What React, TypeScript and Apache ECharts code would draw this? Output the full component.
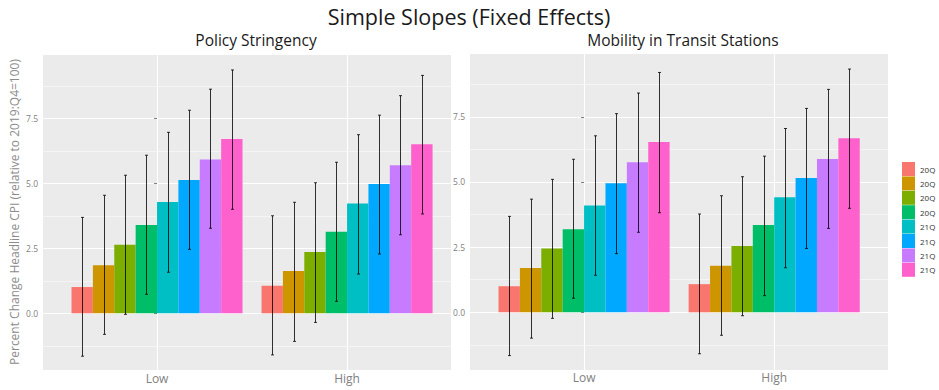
import React, { useEffect, useRef } from 'react';
import * as echarts from 'echarts';

const categories = ['Low', 'High'];
const quarters = ['20Q1', '20Q2', '20Q3', '20Q4', '21Q1', '21Q2', '21Q3', '21Q4'];
const colors = ['#F8766D', '#CD9600', '#7CAE00', '#00BE67', '#00BFC4', '#00A9FF', '#C77CFF', '#FF61CC'];
const yTicks = [0, 2.5, 5, 7.5];

// Policy Stringency
const stringencyLowEst = [1.01, 1.85, 2.64, 3.40, 4.28, 5.13, 5.92, 6.70];
const stringencyLowLo = [-1.65, -0.81, -0.04, 0.73, 1.58, 2.46, 3.27, 4.00];
const stringencyLowHi = [3.69, 4.54, 5.31, 6.08, 6.96, 7.81, 8.62, 9.36];
const stringencyHighEst = [1.06, 1.63, 2.36, 3.14, 4.22, 4.97, 5.69, 6.50];
const stringencyHighLo = [-1.60, -1.08, -0.35, 0.46, 1.51, 2.28, 3.02, 3.82];
const stringencyHighHi = [3.75, 4.27, 5.02, 5.81, 6.87, 7.62, 8.37, 9.15];

// Mobility in Transit Stations
const mobilityLowEst = [1.00, 1.70, 2.45, 3.19, 4.10, 4.95, 5.76, 6.53];
const mobilityLowLo = [-1.66, -0.99, -0.23, 0.54, 1.42, 2.25, 3.07, 3.82];
const mobilityLowHi = [3.68, 4.34, 5.10, 5.87, 6.77, 7.62, 8.41, 9.20];
const mobilityHighEst = [1.08, 1.79, 2.54, 3.35, 4.41, 5.15, 5.88, 6.68];
const mobilityHighLo = [-1.59, -0.88, -0.13, 0.64, 1.71, 2.45, 3.22, 3.99];
const mobilityHighHi = [3.77, 4.47, 5.20, 5.99, 7.05, 7.82, 8.55, 9.33];

const FONT = 'Open Sans';
const GROUP_WIDTH = 0.9;

function makeRender(qi: number) {
  return (params: any, api: any) => {
    const x = api.value(0);
    const y = api.value(1);
    const lo = api.value(2);
    const hi = api.value(3);
    const bw = GROUP_WIDTH / quarters.length;
    const x0 = x - GROUP_WIDTH / 2 + bw * qi;
    const p0 = api.coord([x0, y]);
    const p1 = api.coord([x0 + bw, 0]);
    const xc = Math.round(api.coord([x0 + bw / 2, 0])[0]) + 0.5;
    const pt = api.coord([x0 + bw / 2, hi]);
    const pb = api.coord([x0 + bw / 2, lo]);
    const cap = 1.5;
    const es = { stroke: 'rgba(0,0,0,0.8)', lineWidth: 1 };
    return {
      type: 'group',
      children: [
        {
          type: 'rect',
          shape: {
            x: p0[0],
            y: Math.min(p0[1], p1[1]),
            width: p1[0] - p0[0],
            height: Math.abs(p1[1] - p0[1]),
          },
          style: { fill: colors[qi] },
        },
        { type: 'line', shape: { x1: xc, y1: pt[1], x2: xc, y2: pb[1] }, style: es },
        { type: 'line', shape: { x1: xc - cap, y1: pt[1], x2: xc + cap, y2: pt[1] }, style: es },
        { type: 'line', shape: { x1: xc - cap, y1: pb[1], x2: xc + cap, y2: pb[1] }, style: es },
      ],
    };
  };
}

function panelSeries(est: number[][], lo: number[][], hi: number[][], idx: number) {
  return quarters.map((q, qi) => ({
    type: 'custom',
    name: q,
    xAxisIndex: idx,
    yAxisIndex: idx,
    itemStyle: { color: colors[qi] },
    encode: { x: 0, y: 1 },
    renderItem: makeRender(qi),
    data: categories.map((_, c) => [c, est[c][qi], lo[c][qi], hi[c][qi]]),
  }));
}

function xAxisOpt(idx: number, min: number, max: number) {
  return {
    type: 'value',
    gridIndex: idx,
    min,
    max,
    axisLine: { show: false },
    axisTick: { show: false, customValues: [0, 1] },
    axisLabel: {
      customValues: [0, 1],
      formatter: (v: number) => categories[Math.round(v)],
      margin: 0,
      verticalAlign: 'middle',
      color: '#7f7f7f',
      fontSize: 12,
      fontFamily: FONT,
    },
    splitLine: { show: true, lineStyle: { color: '#ffffff', width: 1.1 } },
  };
}

function yAxisOpt(idx: number) {
  return {
    type: 'value',
    gridIndex: idx,
    min: -2.5,
    max: 10,
    interval: 2.5,
    axisLine: { show: false },
    axisTick: { show: true, length: 3, customValues: yTicks, lineStyle: { color: '#7f7f7f' } },
    axisLabel: {
      customValues: yTicks,
      formatter: (v: number) => v.toFixed(1),
      fontSize: 8.5,
      color: '#7f7f7f',
      margin: 5,
      fontFamily: FONT,
    },
    splitLine: { show: true, lineStyle: { color: '#ffffff', width: 1.1 } },
    minorTick: { show: false, splitNumber: 2 },
    minorSplitLine: { show: true, lineStyle: { color: '#ffffff', width: 0.5 } },
  };
}

export default function App() {
  const ref = useRef<HTMLDivElement>(null);
  useEffect(() => {
    if (!ref.current) return;
    const chart = echarts.init(ref.current, undefined, { renderer: 'svg' });
    const stringencyEst = [stringencyLowEst, stringencyHighEst];
    const stringencyLo = [stringencyLowLo, stringencyHighLo];
    const stringencyHi = [stringencyLowHi, stringencyHighHi];
    const mobilityEst = [mobilityLowEst, mobilityHighEst];
    const mobilityLo = [mobilityLowLo, mobilityHighLo];
    const mobilityHi = [mobilityLowHi, mobilityHighHi];
    chart.setOption({
      animation: false,
      textStyle: { fontFamily: FONT },
      title: [
        {
          text: 'Simple Slopes (Fixed Effects)',
          left: 464,
          top: 0,
          textAlign: 'center',
          textStyle: { fontSize: 21.5, fontWeight: 'normal', color: '#1a1a1a', fontFamily: FONT },
        },
        {
          text: 'Policy Stringency',
          left: 251,
          top: 27,
          textAlign: 'center',
          textStyle: { fontSize: 15.5, fontWeight: 'normal', color: '#1a1a1a', fontFamily: FONT },
        },
        {
          text: 'Mobility in Transit Stations',
          left: 678,
          top: 27,
          textAlign: 'center',
          textStyle: { fontSize: 15.5, fontWeight: 'normal', color: '#1a1a1a', fontFamily: FONT },
        },
      ],
      legend: {
        orient: 'vertical',
        left: 902,
        top: 162,
        padding: 0,
        itemWidth: 13,
        itemHeight: 14,
        itemGap: 0.4,
        icon: 'rect',
        data: quarters,
        formatter: (n: string) => n.slice(0, 3),
        textStyle: { fontSize: 8, color: '#333333', fontFamily: FONT },
      },
      graphic: {
        elements: [
          { type: 'rect', z: -100, shape: { x: 43, y: 55, width: 408, height: 315 }, style: { fill: '#EBEBEB' } },
          { type: 'rect', z: -100, shape: { x: 470, y: 54, width: 418, height: 316 }, style: { fill: '#EBEBEB' } },
          {
            type: 'text',
            x: 14,
            y: 212,
            rotation: Math.PI / 2,
            style: {
              text: 'Percent Change Headline CPI (relative to 2019:Q4=100)',
              fill: '#8c8c8c',
              fontSize: 12,
              fontFamily: FONT,
              align: 'center',
              verticalAlign: 'middle',
            },
          },
        ],
      },
      grid: [
        { left: 43, top: 53.3, width: 408, height: 325 },
        { left: 470, top: 51.6, width: 417.7, height: 325.9 },
      ],
      xAxis: [xAxisOpt(0, -0.6, 1.547), xAxisOpt(1, -0.6, 1.597)],
      yAxis: [yAxisOpt(0), yAxisOpt(1)],
      series: [
        ...panelSeries(stringencyEst, stringencyLo, stringencyHi, 0),
        ...panelSeries(mobilityEst, mobilityLo, mobilityHi, 1),
      ],
    });
    return () => chart.dispose();
  }, []);
  return (
    <div
      ref={ref}
      style={{ position: 'fixed', left: 0, top: 0, width: 939, height: 390, background: '#ffffff' }}
    />
  );
}
